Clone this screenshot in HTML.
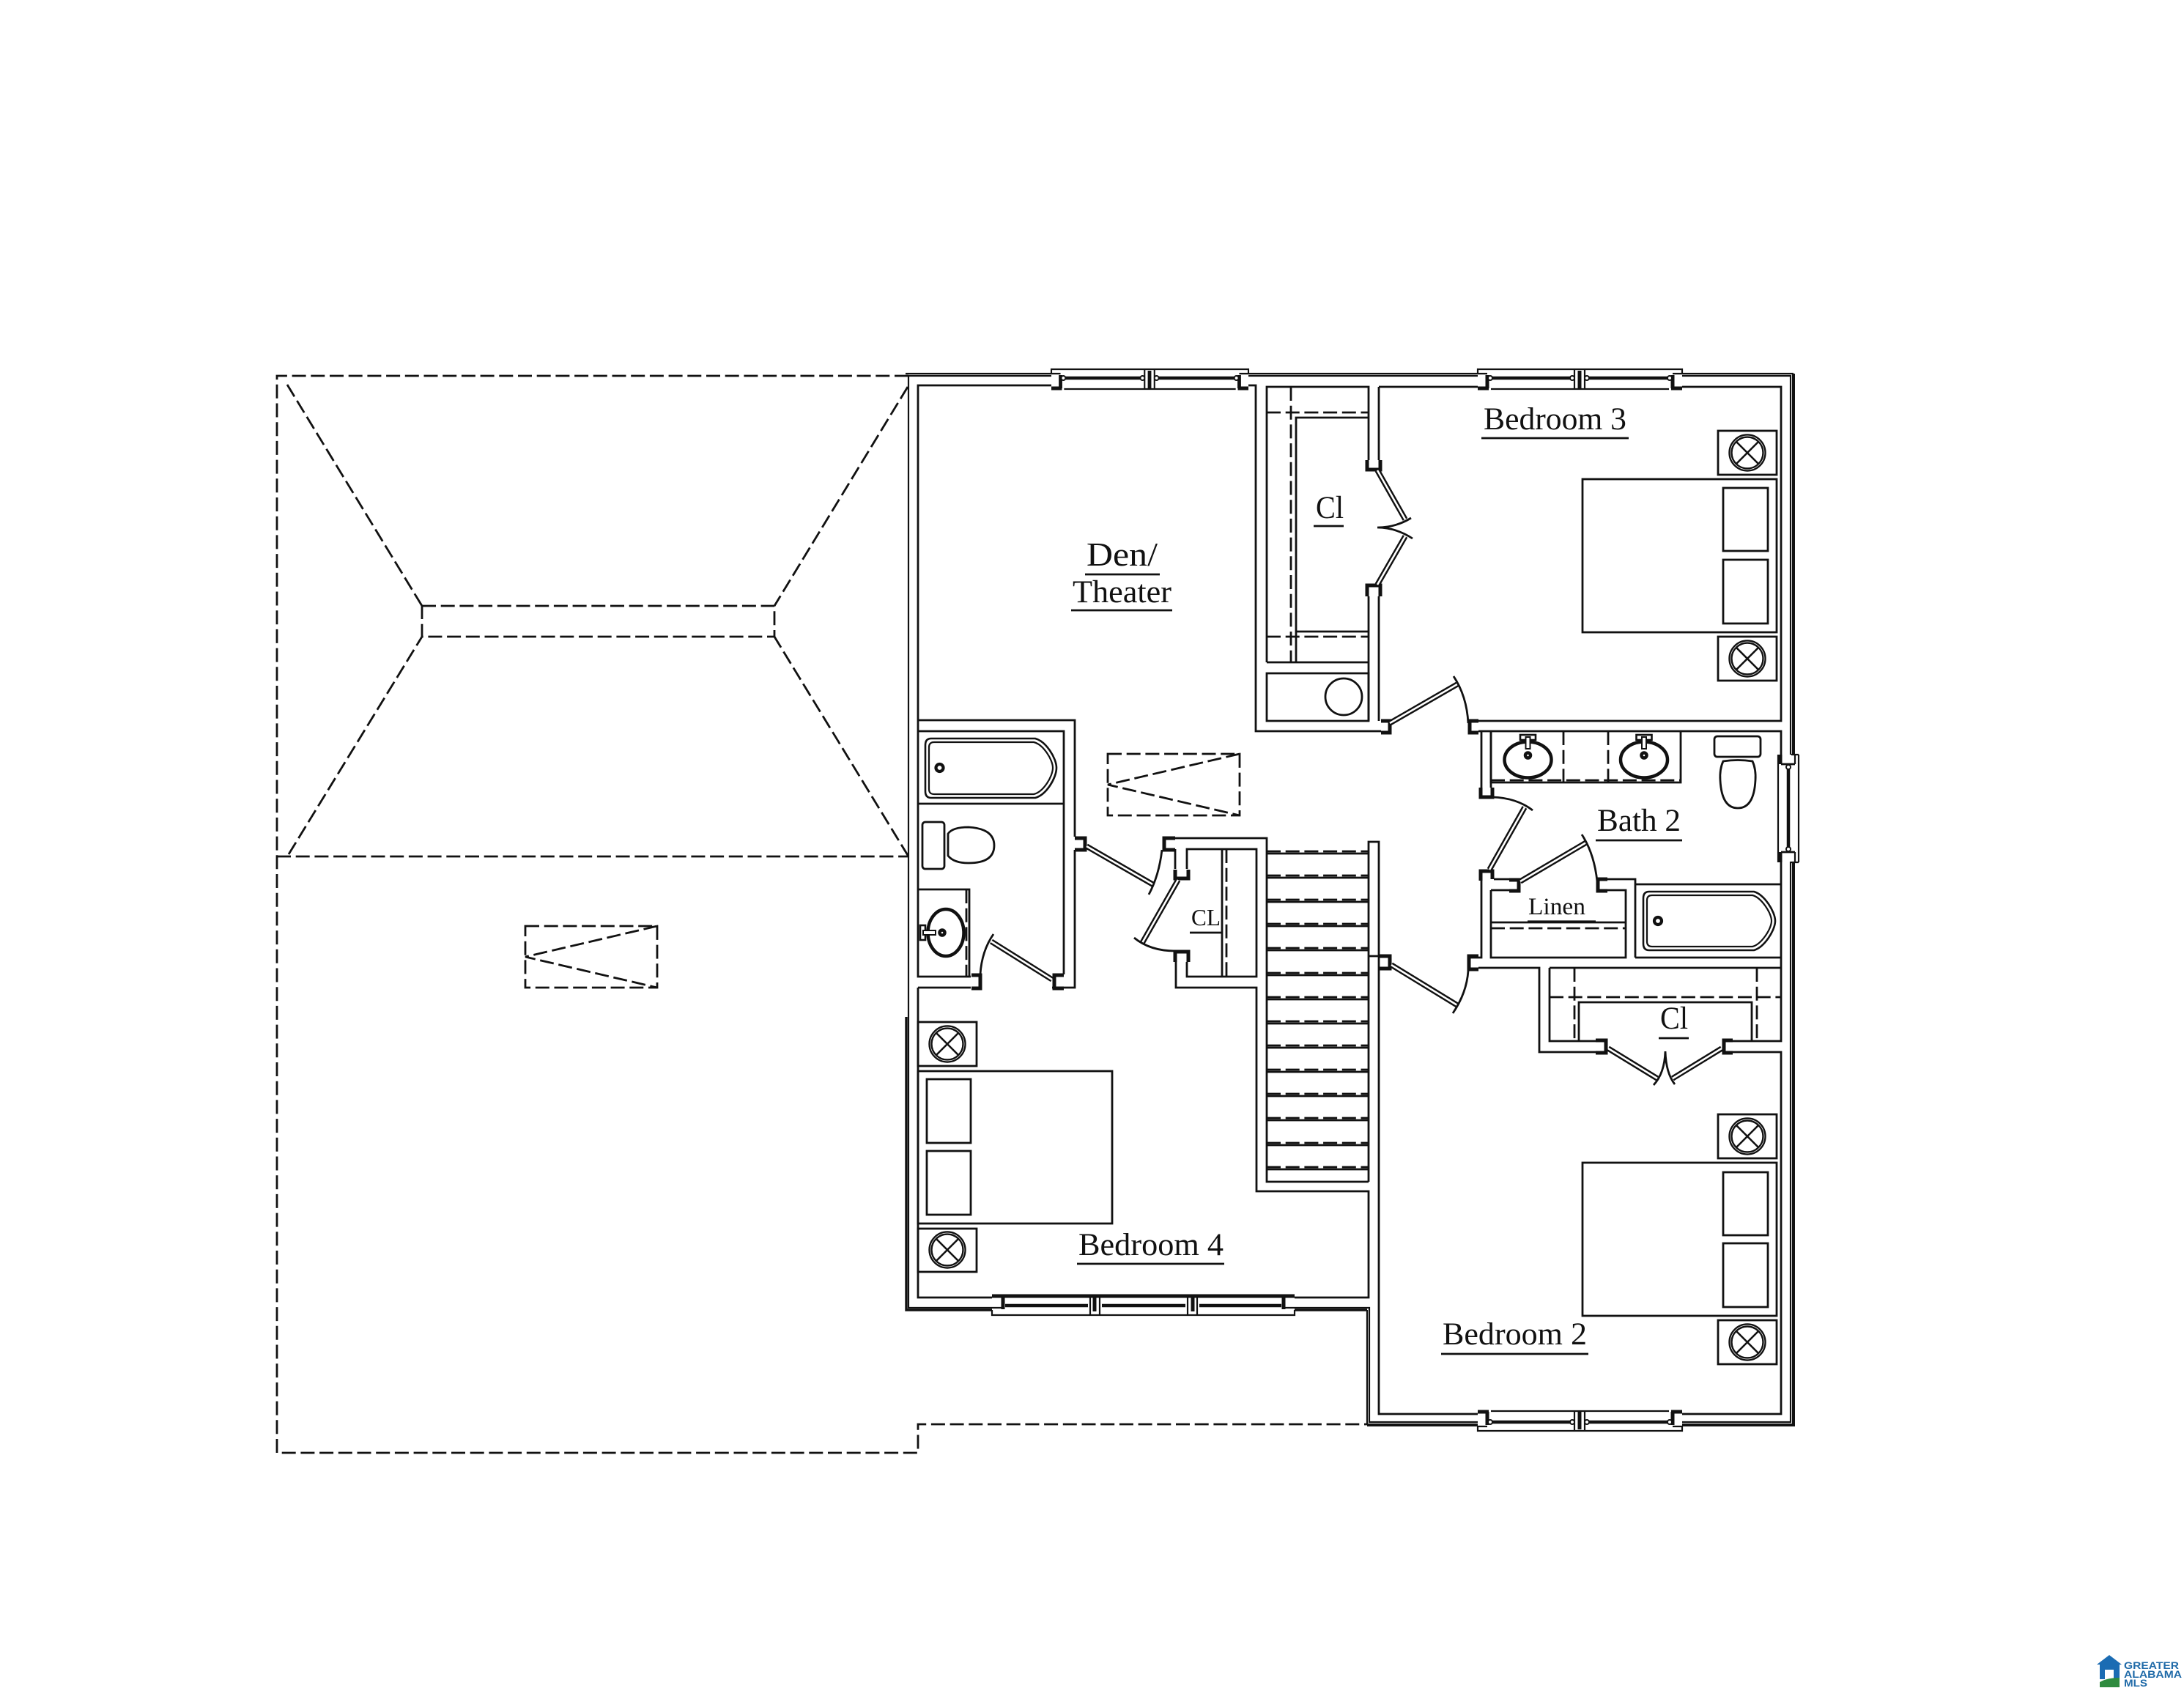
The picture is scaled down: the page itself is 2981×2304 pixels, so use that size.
<!DOCTYPE html>
<html lang="en">
<head>
<meta charset="utf-8">
<title>Second Floor Plan</title>
<style>
html,body{margin:0;padding:0;background:#fff}
svg{display:block}
.w{fill:none;stroke:#111;stroke-width:2.8}
.t{fill:none;stroke:#111;stroke-width:2.2}
.k{fill:none;stroke:#111;stroke-width:5}
.d{fill:none;stroke:#111;stroke-width:2.8;stroke-dasharray:19 6.7}
.txt{font-family:"Liberation Serif",serif;font-size:43px;fill:#111}
</style>
</head>
<body>
<svg xmlns="http://www.w3.org/2000/svg" width="2981" height="2304" viewBox="0 0 2981 2304">
<rect width="2981" height="2304" fill="#fff"/>
<defs>
  <g id="lv" fill="none">
    <path d="M1880 642L1918 709M1918 732L1880 798"/>
    <path d="M1897 987L1989 934"/>
    <path d="M2081 1102L2033 1187"/>
    <path d="M2075 1203L2165 1150"/>
    <path d="M1899 1317L1989 1372"/>
    <path d="M2195 1431L2262 1472M2350 1431L2283 1472"/>
    <path d="M1483 1155L1575 1208"/>
    <path d="M1608 1201L1559 1287"/>
    <path d="M1353 1285L1436 1337"/>
  </g>
  <g id="ns">
    <circle r="23" fill="none" stroke="#111" stroke-width="5.4"/>
    <circle r="23" fill="none" stroke="#fff" stroke-width="0.7"/>
    <path d="M-15 -15L15 15M15 -15L-15 15" fill="none" stroke="#111" stroke-width="2.6"/>
  </g>
  <g id="win2">
    <path class="t" d="M2017 510V504H2296V510"/>
    <path class="k" d="M2017 530H2032M2281 530H2296M2156 506V530M2030 512V530M2283 512V530"/>
    <path class="t" d="M2017 510H2030M2283 510H2296M2149 504V530M2163 504V530M2035 531H2278"/>
    <path d="M2034 516H2146M2166 516H2279" fill="none" stroke="#111" stroke-width="4.5"/>
    <circle cx="2034" cy="516" r="3" fill="#fff" stroke="#111" stroke-width="2"/>
    <circle cx="2146" cy="516" r="3" fill="#fff" stroke="#111" stroke-width="2"/>
    <circle cx="2166" cy="516" r="3" fill="#fff" stroke="#111" stroke-width="2"/>
    <circle cx="2279" cy="516" r="3" fill="#fff" stroke="#111" stroke-width="2"/>
  </g>
</defs>

<!-- Roof dashed -->
<g class="d">
  <path d="M1240 513H378V1983H1253V1944H1866"/>
  <path d="M378 1169H1240"/>
  <path d="M576 827H1057V869H576Z"/>
  <path d="M392 525L576 827M1239 528L1057 827M394 1166L576 869M1240 1169L1057 869"/>
  <path d="M717 1264H897V1348H717Z"/>
  <path d="M897 1264L717 1306L897 1348"/>
  <path d="M1512 1029H1692V1113H1512Z"/>
  <path d="M1692 1029L1512 1071L1692 1113"/>
</g>

<!-- Outer walls -->
<g class="t">
  <path d="M1236 510H1435M1704 510H2017M2296 510H2448"/>
  <path d="M1240 513H1435M1704 513H2017M2296 513H2444V1030M2444 1176V1941H2296M2017 1941H1869V1785H1767M1354 1785H1240V513"/>
  <path d="M1866 1788V1945"/>
</g>
<path d="M2448 510V1030M2448 1176V1945H2296M2017 1945H1866" fill="none" stroke="#111" stroke-width="4"/>
<path d="M1237 1388V1788H1354M1767 1788H1866" fill="none" stroke="#111" stroke-width="3.4"/>

<!-- Interior walls -->
<g class="w">
  <!-- Den / top -->
  <path d="M1435 526H1253V983M1704 526H1714V998H1885"/>
  <path d="M1729 904V528H1868V628M1882 528V628"/>
  <path d="M1729 904H1868M1729 919H1868V984H1729Z"/>
  <path d="M1868 814V984M1882 814V984"/>
  <path d="M1882 528H2017M2296 528H2431V984H2018"/>
  <!-- Den bath -->
  <path d="M1253 983H1467V1142M1467 1160V1348H1436"/>
  <path d="M1253 998H1452V1330M1253 1097H1452"/>
  <path d="M1253 983V1333H1325M1253 1348H1325"/>
  <path d="M1253 1214H1323V1333"/>
  <path d="M1253 1348V1771H1354M1767 1771H1868V1626H1715V1348H1605V1313"/>
  <path d="M1620 1313V1333H1715V1159H1620V1186M1604 1159V1186"/>
  <path d="M1604 1144H1729V1613H1868"/>
  <path d="M1668 1159V1333"/>
  <!-- Stairs -->
  <path d="M1868 1613V1149H1882V1322"/>
  <path d="M1882 1322V1930H2017M2296 1930H2431V1436H2365"/>
  <path d="M1868 1305H1885"/>
  <!-- Bath 2 -->
  <path d="M2018 998H2431V1030M2431 1177V1421H2365M2022 998V1075M2035 998V1075"/>
  <path d="M2035 998V1068H2294V998"/>
  <path d="M2022 1187V1307H2003M2035 1215V1307H2219V1215H2194M2035 1215H2060M2039 1200H2060M2194 1200H2232V1307"/>
  <path d="M2232 1207H2431M2232 1307H2431"/>
  <path d="M2035 1259H2219"/>
  <!-- Bed2 closet -->
  <path d="M2018 1321H2101V1436H2178M2115 1321H2431M2115 1321V1421H2178"/>
  <path d="M2155 1421V1368H2391V1421"/>
</g>

<!-- Dashes interior -->
<g class="d">
  <path d="M1762 528V904M1729 563H1868M1729 869H1868"/>
  <path d="M1674 1159V1333"/>
  <path d="M1319 1214V1333"/>
  <path d="M2134 998V1068M2195 998V1068M2035 1065H2294"/>
  <path d="M2035 1267H2219"/>
  <path d="M2149 1321V1421M2398 1321V1421M2115 1361H2431"/>
</g>
<path class="w" d="M1769 904V570H1868M1769 862H1868"/>

<!-- Stairs treads -->
<g class="w">
  <path d="M1729 1165H1868M1729 1198H1868M1729 1231H1868M1729 1264H1868M1729 1297H1868M1729 1331H1868M1729 1364H1868M1729 1397H1868M1729 1430H1868M1729 1463H1868M1729 1496H1868M1729 1529H1868M1729 1563H1868M1729 1596H1868"/>
</g>
<g class="d">
  <path d="M1729 1162H1868M1729 1195H1868M1729 1228H1868M1729 1261H1868M1729 1294H1868M1729 1328H1868M1729 1361H1868M1729 1394H1868M1729 1427H1868M1729 1460H1868M1729 1493H1868M1729 1526H1868M1729 1560H1868M1729 1593H1868"/>
</g>

<!-- Door jambs -->
<g class="k">
  <path d="M1866 628V641H1884V628"/>
  <path d="M1866 814V799H1884V814"/>
  <path d="M1885 984H1897V1000H1885"/>
  <path d="M2018 984H2006V1000H2018"/>
  <path d="M2021 1075V1088H2037V1075"/>
  <path d="M2021 1202V1189H2037V1200"/>
  <path d="M2060 1201H2073V1216H2060"/>
  <path d="M2194 1200H2181V1216H2194"/>
  <path d="M1882 1305H1897V1322H1882"/>
  <path d="M2018 1305H2005V1323H2018"/>
  <path d="M2178 1420H2192V1437H2178"/>
  <path d="M2365 1420H2353V1437H2365"/>
  <path d="M1467 1144H1481V1160H1467"/>
  <path d="M1604 1144H1589V1160H1604"/>
  <path d="M1604 1187V1199H1622V1187"/>
  <path d="M1604 1313V1299H1622V1313"/>
  <path d="M1326 1331H1338V1349H1326"/>
  <path d="M1452 1331H1439V1349H1452"/>
</g>

<!-- Door leaves -->
<use href="#lv" stroke="#111" stroke-width="7.5"/>
<use href="#lv" stroke="#fff" stroke-width="2.6"/>

<!-- Door arcs -->
<g class="w">
  <path d="M1984 923Q2002 950 2004 987"/>
  <path d="M2037 1088Q2070 1089 2092 1106"/>
  <path d="M2159 1139Q2176 1165 2180 1203"/>
  <path d="M2004 1325Q2002 1355 1983 1383"/>
  <path d="M1586 1160Q1582 1195 1568 1221"/>
  <path d="M1548 1280Q1570 1298 1604 1298"/>
  <path d="M1356 1275Q1340 1298 1338 1330"/>
  <path d="M1926 707Q1905 720 1880 720Q1905 720 1928 735"/>
  <path d="M2257 1481Q2272 1465 2273 1435Q2274 1465 2286 1480"/>
</g>

<!-- Windows -->
<g transform="translate(-1.5 0)">
<g transform="translate(1436.5 0) scale(.9642 1) translate(-2017 0)"><use href="#win2"/></g>
</g>
<use href="#win2"/>
<g transform="translate(0 2457) scale(1 -1)"><use href="#win2"/></g>

<!-- Bedroom 4 window -->
<g>
  <path class="t" d="M1354 1788V1795H1767V1788"/>
  <path class="k" d="M1354 1769H1767M1369 1771V1787M1752 1771V1787M1494 1769V1790M1628 1769V1790"/>
  <path class="t" d="M1354 1785H1369M1752 1785H1767M1488 1769V1795M1501 1769V1795M1621 1769V1795M1634 1769V1795"/>
  <path d="M1372 1782H1485M1504 1782H1618M1637 1782H1749" fill="none" stroke="#111" stroke-width="4.5"/>
</g>

<!-- Bath window -->
<g>
  <path class="t" d="M2427 1030V1177M2455 1030V1177M2445 1030H2455M2445 1177H2455M2450 1030V1043M2450 1163V1177"/>
  <path class="w" d="M2431 1043H2450M2431 1163H2450"/>
  <path d="M2429.5 1030V1043M2429.5 1163V1177" fill="none" stroke="#111" stroke-width="6"/>
  <path d="M2441 1047V1160" fill="none" stroke="#111" stroke-width="4.5"/>
  <circle cx="2441" cy="1047" r="3" fill="#fff" stroke="#111" stroke-width="2"/>
  <circle cx="2441" cy="1159" r="3" fill="#fff" stroke="#111" stroke-width="2"/>
</g>

<!-- Closet washer circle -->
<circle class="w" cx="1834" cy="951" r="25"/>

<!-- Beds -->
<g class="w">
  <rect x="2160" y="654" width="265" height="209"/>
  <rect x="2352" y="666" width="61" height="86"/>
  <rect x="2352" y="764" width="61" height="87"/>
  <rect x="2345" y="588" width="80" height="60"/>
  <rect x="2345" y="869" width="80" height="60"/>
  <rect x="2160" y="1587" width="265" height="209"/>
  <rect x="2352" y="1600" width="61" height="86"/>
  <rect x="2352" y="1697" width="61" height="87"/>
  <rect x="2345" y="1521" width="80" height="60"/>
  <rect x="2345" y="1802" width="80" height="60"/>
  <rect x="1253" y="1462" width="265" height="208"/>
  <rect x="1265" y="1473" width="60" height="87"/>
  <rect x="1265" y="1571" width="60" height="87"/>
  <rect x="1253" y="1395" width="80" height="60"/>
  <rect x="1253" y="1677" width="80" height="59"/>
</g>
<use href="#ns" x="2385" y="618"/>
<use href="#ns" x="2385" y="899"/>
<use href="#ns" x="2385" y="1551"/>
<use href="#ns" x="2385" y="1832"/>
<use href="#ns" x="1293" y="1425"/>
<use href="#ns" x="1293" y="1706"/>

<!-- Tubs -->
<g class="t">
  <path stroke-width="2.6" d="M1271 1008H1413C1428 1012 1442 1035 1442 1048C1442 1062 1428 1085 1413 1089H1271Q1263 1089 1263 1080V1017Q1263 1008 1271 1008Z"/>
  <path d="M1275 1013H1411C1424 1016 1437 1037 1437 1048C1437 1060 1424 1081 1411 1084H1275Q1268 1084 1268 1077V1020Q1268 1013 1275 1013Z"/>
  <path stroke-width="2.6" d="M2251 1217H2394C2408 1221 2423 1244 2423 1257C2423 1270 2408 1293 2394 1297H2251Q2243 1297 2243 1288V1226Q2243 1217 2251 1217Z"/>
  <path d="M2255 1222H2392C2404 1225 2418 1246 2418 1257C2418 1268 2404 1289 2392 1292H2255Q2248 1292 2248 1285V1229Q2248 1222 2255 1222Z"/>
</g>
<circle cx="1282.5" cy="1048" r="5" fill="#fff" stroke="#111" stroke-width="4.2"/>
<circle cx="2263" cy="1257" r="5" fill="#fff" stroke="#111" stroke-width="4.2"/>

<!-- Toilets -->
<g class="w">
  <rect x="1259" y="1122" width="30" height="64" rx="4"/>
  <path d="M1294 1138Q1300 1129 1322 1129Q1357 1131 1357 1154Q1357 1178 1322 1178Q1302 1178 1294 1168Z"/>
  <rect x="2340" y="1005" width="63" height="28" rx="4"/>
  <path d="M2352 1039Q2372 1036 2392 1039Q2397 1050 2396 1065Q2394 1103 2372 1103Q2350 1103 2348 1065Q2347 1050 2352 1039Z"/>
</g>

<!-- Sinks -->
<g fill="none" stroke="#111">
  <ellipse cx="2085.5" cy="1037" rx="32" ry="24.5" stroke-width="4.5"/>
  <ellipse cx="2244" cy="1037" rx="32" ry="24.5" stroke-width="4.5"/>
  <ellipse cx="1291" cy="1273" rx="24.5" ry="32" stroke-width="4.5"/>
</g>
<g fill="#fff" stroke="#111">
  <circle cx="2085.5" cy="1031" r="3.5" stroke-width="4.5"/>
  <circle cx="2244" cy="1031" r="3.5" stroke-width="4.5"/>
  <circle cx="1286" cy="1273" r="3.5" stroke-width="4.5"/>
  <rect x="2075" y="1003" width="21" height="7" stroke-width="2.6"/>
  <rect x="2233.5" y="1003" width="21" height="7" stroke-width="2.6"/>
  <rect x="2082.5" y="1006" width="6" height="16" stroke-width="2"/>
  <rect x="2241" y="1006" width="6" height="16" stroke-width="2"/>
  <rect x="1256" y="1263" width="7" height="20" stroke-width="2.6"/>
  <rect x="1260" y="1270" width="17" height="6" stroke-width="2"/>
</g>

<!-- Labels -->
<g class="txt">
  <text x="1483" y="772" textLength="97" lengthAdjust="spacingAndGlyphs" style="font-size:45px">Den/</text>
  <text x="1464" y="822" textLength="135" lengthAdjust="spacingAndGlyphs">Theater</text>
  <text x="1796" y="707" textLength="38" lengthAdjust="spacingAndGlyphs">Cl</text>
  <text x="2025" y="586" textLength="195" lengthAdjust="spacingAndGlyphs">Bedroom 3</text>
  <text x="2180" y="1134" textLength="114" lengthAdjust="spacingAndGlyphs">Bath 2</text>
  <text x="2266" y="1404" textLength="38" lengthAdjust="spacingAndGlyphs">Cl</text>
  <text x="1472" y="1713" textLength="198" lengthAdjust="spacingAndGlyphs">Bedroom 4</text>
  <text x="1969" y="1835" textLength="197" lengthAdjust="spacingAndGlyphs">Bedroom 2</text>
  <text x="2086" y="1248" textLength="78" lengthAdjust="spacingAndGlyphs" style="font-size:33px">Linen</text>
  <text x="1626" y="1263" textLength="40" lengthAdjust="spacingAndGlyphs" style="font-size:32px">CL</text>
</g>
<g fill="none" stroke="#111" stroke-width="2.8">
  <path d="M1481 784H1583M1462 833H1600M1793 718H1834M2022 598H2223M2178 1147H2296M2264 1417H2305M1470 1725H1671M1967 1848H2168M1624 1273H1668"/>
  <path d="M2085 1258H2178" stroke-width="3.2"/>
</g>

<!-- MLS logo -->
<g>
  <path d="M2862 2272L2879 2259L2896 2272H2893V2292H2885V2279H2873V2292H2866V2272Z" fill="#1b6cb3"/>
  <path d="M2866 2303V2296Q2876 2290 2893 2290V2303Z" fill="#2e8b3e"/>
  <g font-family="'Liberation Sans',sans-serif" font-weight="700" font-size="14" fill="#1f6aa8">
    <text x="2899" y="2278" textLength="75" lengthAdjust="spacingAndGlyphs">GREATER</text>
    <text x="2899" y="2290" textLength="79" lengthAdjust="spacingAndGlyphs">ALABAMA</text>
    <text x="2899" y="2302" textLength="32" lengthAdjust="spacingAndGlyphs">MLS</text>
  </g>
</g>
</svg>
</body>
</html>
